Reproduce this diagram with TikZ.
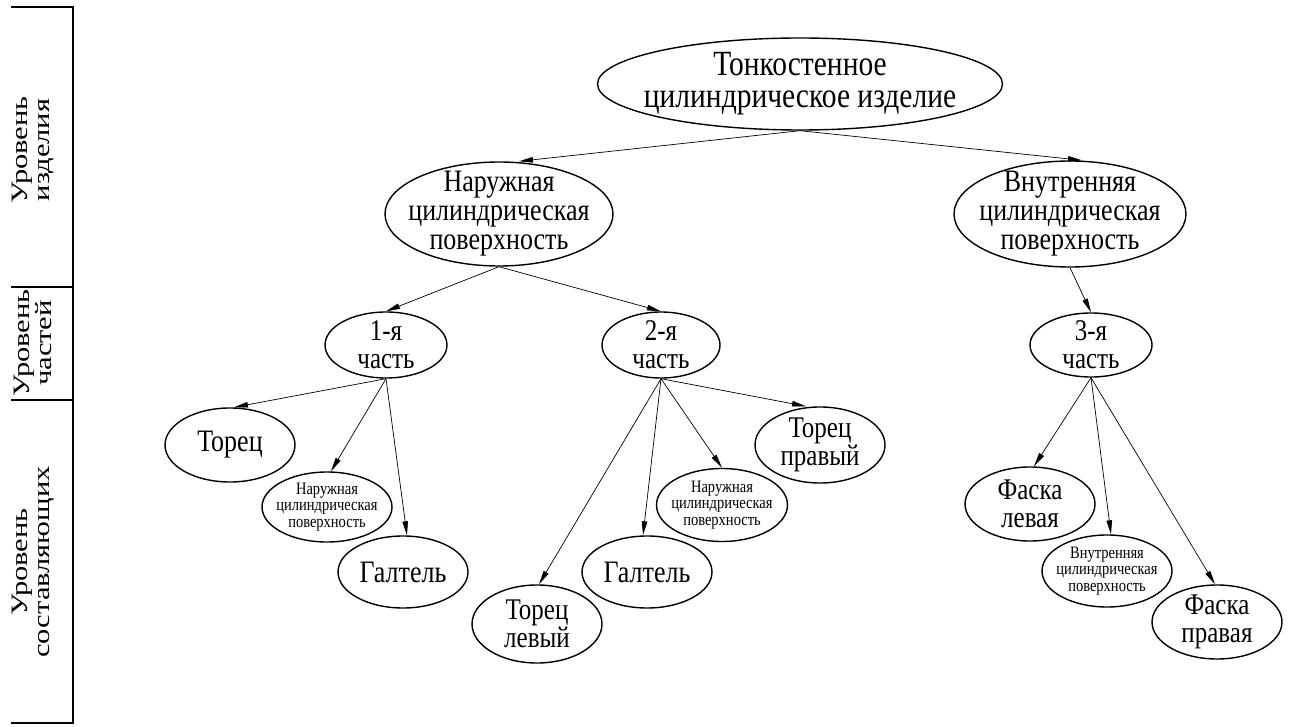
\documentclass[tikz,border=0pt]{standalone}
\usepackage{fontspec}
\usepackage{graphicx}
\setmainfont{Liberation Serif}
\usetikzlibrary{shapes.geometric,arrows.meta}
\newcommand\sw[1]{\scalebox{1.3}[1]{#1}}
\newcommand\st[1]{\scalebox{1}[1.2]{#1}}
\newcommand\tls{\lineskiplimit-50pt\relax}
\newcommand\fsz[2]{\fontsize{#1}{#2}\selectfont\tls}
\begin{document}
\begin{tikzpicture}[x=1pt,y=-1pt,
  el/.style={draw, ellipse, line width=1.4pt, inner sep=0pt},
  big/.style={align=center, inner sep=0pt, font=\fsz{26}{29}},
  sm/.style={align=center, inner sep=0pt, font=\fsz{14.5}{16.5}},
  ar/.style={-{Triangle[length=14pt,width=5.5pt]}, line width=0.7pt},
  br/.style={line width=1.8pt},
  lv/.style={rotate=90, align=center, inner sep=0pt, font=\fontsize{23.5}{22}\selectfont}]
\useasboundingbox (0,0) rectangle (1293,727);

% left level bracket
\coordinate (b0) at (73,7);
\coordinate (b1) at (73,287);
\coordinate (b2) at (73,400);
\coordinate (b3) at (73,723);
\coordinate (t0) at (11,7);
\coordinate (t1) at (11,287);
\coordinate (t2) at (11,400);
\coordinate (t3) at (11,723);
\draw[br] (t0) -- (b0) -- (b3) -- (t3);
\draw[br] (t1) -- (b1);
\draw[br] (t2) -- (b2);
\node[lv] (l1) at (33,150) {\sw{Уровень}\\\sw{изделия}};
\node[lv] (l2) at (33,343) {\sw{Уровень}\\\sw{частей}};
\node[lv] (l3) at (33,562) {\sw{Уровень}\\\sw{составляющих}};

% ellipses
\node[el, minimum width=405, minimum height=92] (top) at (800,84) {};
\node[big, font=\fsz{29.5}{32}] (topt) at (top) {\st{Тонкостенное}\\\st{цилиндрическое изделие}};

\node[el, minimum width=228, minimum height=104] (nar) at (499,214) {};
\node[big] (nart) at (nar) {\st{Наружная}\\\st{цилиндрическая}\\\st{поверхность}};

\node[el, minimum width=232, minimum height=106] (vnu) at (1070,214) {};
\node[big] (vnut) at (vnu) {\st{Внутренняя}\\\st{цилиндрическая}\\\st{поверхность}};

\node[el, minimum width=122, minimum height=66] (p1) at (386,345) {};
\node[big, font=\fsz{25}{28}] (p1t) at (p1) {\st{1-я}\\\st{часть}};
\node[el, minimum width=118, minimum height=66] (p2) at (661,345) {};
\node[big, font=\fsz{25}{28}] (p2t) at (p2) {\st{2-я}\\\st{часть}};
\node[el, minimum width=122, minimum height=64] (p3) at (1091,345) {};
\node[big, font=\fsz{25}{28}] (p3t) at (p3) {\st{3-я}\\\st{часть}};

\node[el, minimum width=130, minimum height=74] (tor) at (230,445) {};
\node[big] (tort) at (tor) {\st{Торец}};
\node[el, minimum width=130, minimum height=70] (ns1) at (327,507) {};
\node[sm] (ns1t) at (ns1) {\st{Наружная}\\\st{цилиндрическая}\\\st{поверхность}};
\node[el, minimum width=130, minimum height=72] (gal1) at (403,572) {};
\node[big] (gal1t) at (gal1) {\st{Галтель}};

\node[el, minimum width=130, minimum height=78] (torl) at (537,624) {};
\node[big, font=\fsz{25}{28}] (torlt) at (torl) {\st{Торец}\\\st{левый}};
\node[el, minimum width=130, minimum height=72] (gal2) at (647,572) {};
\node[big] (gal2t) at (gal2) {\st{Галтель}};
\node[el, minimum width=131, minimum height=73] (ns2) at (722,505) {};
\node[sm] (ns2t) at (ns2) {\st{Наружная}\\\st{цилиндрическая}\\\st{поверхность}};
\node[el, minimum width=130, minimum height=76] (torp) at (820,445) {};
\node[big, font=\fsz{25}{28}] (torpt) at (torp) {\st{Торец}\\\st{правый}};

\node[el, minimum width=130, minimum height=74] (fl) at (1030,504) {};
\node[big, font=\fsz{25}{28}] (flt) at (fl) {\st{Фаска}\\\st{левая}};
\node[el, minimum width=130, minimum height=72] (vs) at (1107,571) {};
\node[sm] (vst) at (vs) {\st{Внутренняя}\\\st{цилиндрическая}\\\st{поверхность}};
\node[el, minimum width=130, minimum height=74] (fp) at (1217,622) {};
\node[big, font=\fsz{25}{28}] (fpt) at (fp) {\st{Фаска}\\\st{правая}};

% connectors
\draw[ar] (top.south) -- ([xshift=20pt]nar.north);
\draw[ar] (top.south) -- ([xshift=12pt]vnu.north);
\draw[ar] (nar.south) -- (p1.north);
\draw[ar] (nar.south) -- (p2.north);
\draw[ar] (vnu.south) -- (p3.north);
\draw[ar] (p1.south) -- ([xshift=4pt]tor.north);
\draw[ar] (p1.south) -- ([xshift=4pt]ns1.north);
\draw[ar] (p1.south) -- ([xshift=4pt]gal1.north);
\draw[ar] (p2.south) -- ([xshift=2pt]torl.north);
\draw[ar] (p2.south) -- ([xshift=-4pt]gal2.north);
\draw[ar] (p2.south) -- ([xshift=0pt]ns2.north);
\draw[ar] (p2.south) -- ([xshift=-14pt]torp.north);
\draw[ar] (p3.south) -- ([xshift=4pt]fl.north);
\draw[ar] (p3.south) -- ([xshift=4pt]vs.north);
\draw[ar] (p3.south) -- ([xshift=-2pt]fp.north);
\end{tikzpicture}
\end{document}
